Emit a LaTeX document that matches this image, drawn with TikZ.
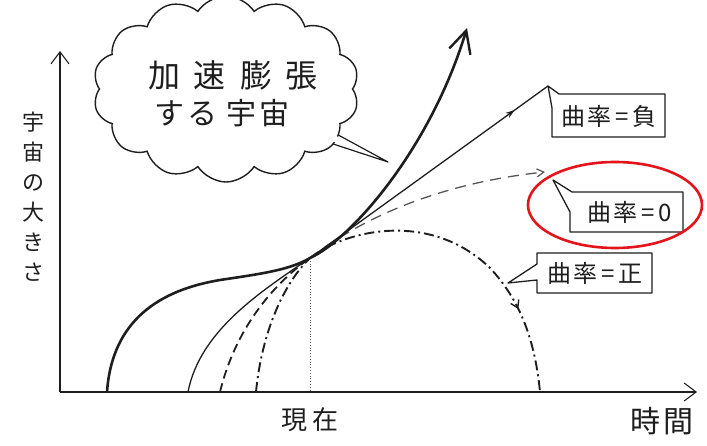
\documentclass[tikz,border=0pt]{standalone}
\usepackage{fontspec}
\newfontfamily\jp{Noto Sans CJK JP}
\usetikzlibrary{arrows.meta,shapes.symbols,shapes.geometric,decorations.markings,calc}
\definecolor{inkc}{HTML}{1E1E1E}
\definecolor{redc}{HTML}{E3141B}
\begin{document}
\begin{tikzpicture}[x=1pt,y=-1pt,
  axis/.style={draw=inkc, line width=1.1pt, -{Straight Barb[length=12pt,width=18pt,line width=1.1pt]}},
  thickc/.style={draw=inkc, line width=2.6pt},
  thinc/.style={draw=inkc, line width=1.3pt},
  dashc/.style={draw=inkc, line width=1.8pt, dash pattern=on 9pt off 5pt},
  dashc2/.style={draw=inkc!75, line width=1.3pt, dash pattern=on 11pt off 7pt},
  ddc/.style={draw=inkc, line width=1.9pt, dash pattern=on 10pt off 4pt on 2pt off 4pt},
  callout/.style={draw=inkc, fill=white, line width=1.3pt, line join=round},
  lab/.style={font=\jp\fontsize{24}{24}\selectfont, text=inkc, inner sep=0pt},
  bigtext/.style={font=\jp\fontsize{32}{32}\selectfont, text=inkc, inner sep=0pt},
  midtext/.style={font=\jp\fontsize{30}{30}\selectfont, text=inkc, inner sep=0pt},
  axtext/.style={text=inkc, inner sep=0pt}]
\useasboundingbox (0,0) rectangle (707,446);

% axes
\coordinate (O) at (60,392);
\coordinate (ytip) at (60,51);
\coordinate (xtip) at (697,392);
\draw[axis] (O) -- (ytip);
\draw[axis] (O) -- (xtip);

% key points
\coordinate (now) at (310,258);
\coordinate (s1) at (107,392);
\coordinate (s2) at (188,392);
\coordinate (s3) at (220,392);
\coordinate (s4) at (256,392);
\coordinate (accend) at (467,28);
\coordinate (negend) at (548,86);
\coordinate (zeroend) at (545,172);
\coordinate (posend) at (540,392);

% dotted line for "now"
\draw[dotted, draw=inkc!70, line width=0.8pt] (now) -- (now |- O);

% curvature = positive (dash-dot)
\draw[ddc] (s4) .. controls (262,330) and (285,282) .. (now);
\draw[ddc, postaction=decorate,
  decoration={markings, mark=at position 0.74 with {\arrow{Straight Barb[length=7pt,width=9pt,line width=1.4pt]}}}]
  (now) .. controls (345,230) and (430,210) .. (490,268) .. controls (520,300) and (535,340) .. (posend);

% curvature = 0 (dashed)
\draw[dashc] (s3) .. controls (235,330) and (272,285) .. (now);
\draw[dashc2, -{Straight Barb[length=7pt,width=8pt,line width=1.2pt]}]
  (now) .. controls (370,212) and (450,182) .. (zeroend);

% curvature = negative (thin)
\draw[thinc] (s2) .. controls (200,330) and (262,291) .. (now);
\draw[thinc, postaction=decorate,
  decoration={markings, mark=at position 0.86 with {\arrow{Stealth[length=9pt,width=6pt]}}}]
  (now) -- (negend);

% accelerating (thick)
\draw[thickc, -{Straight Barb[length=22pt,width=22pt,line width=2.4pt]}]
  (s1) .. controls (112,320) and (160,290) .. (220,280)
  .. controls (260,274) and (290,270) .. (now)
  .. controls (350,240) and (430,150) .. (accend);

% thought cloud with tail
\coordinate (tA) at (318,124);
\coordinate (tB) at (321,140);
\coordinate (tT) at (388,162);
\filldraw[fill=white, draw=inkc, line width=1.2pt, line join=round] (tA) -- (tT) -- (tB);
\node[cloud, draw=inkc, fill=white, line width=1.4pt, cloud puffs=14, cloud puff arc=115,
  aspect=1.5, minimum width=266pt, minimum height=186pt, inner sep=0pt] (cloud) at (226,89) {};
\coordinate (cA1) at ($(tA)!0.2!(tB)$);
\coordinate (cB1) at ($(tA)!0.8!(tB)$);
\fill[white] (cA1) -- ($(cA1)!0.6!(tT)$) -- ($(cB1)!0.6!(tT)$) -- (cB1) -- cycle;
\node[bigtext] (ct1) at (233,75) {加\hspace{14pt}速\hspace{14pt}膨\hspace{14pt}張};
\node[midtext] (ct2) at (222,113) {す\hspace{3pt}る\hspace{10pt}宇\hspace{3pt}宙};

% callout boxes
\draw[callout] (559,94) -- (665,94) -- (665,137) -- (552,137) -- (552,108) -- (negend) -- cycle;
\node[lab] (neg) at (609,116) {曲\hspace{2pt}率\,=\,負};

\draw[callout] (572,192) -- (683,192) -- (683,232) -- (570,232) -- (570,212) -- (553,180) -- cycle;
\node[lab] (zero) at (630,212) {曲\hspace{2pt}率\,=\,0};

\draw[callout] (537,264) -- (537,253) -- (652,253) -- (652,293) -- (537,293) -- (537,280) -- (508,283) -- cycle;
\node[lab] (pos) at (595,273) {曲\hspace{2pt}率\,=\,正};

% red highlight
\node[ellipse, draw=redc, line width=2.6pt, minimum width=174pt, minimum height=86pt, inner sep=0pt] (ring) at (615,205) {};

% axis labels
\node[axtext, font=\jp\fontsize{22}{30}\selectfont, align=center] (ylab) at (33,197) {宇\\宙\\の\\大\\き\\さ};
\node[axtext, font=\jp\fontsize{26}{26}\selectfont] (nowlab) at (310,420) {現\hspace{6pt}在};
\node[axtext, font=\jp\fontsize{30}{30}\selectfont] (tlab) at (662,421) {時\hspace{3pt}間};
\end{tikzpicture}
\end{document}
